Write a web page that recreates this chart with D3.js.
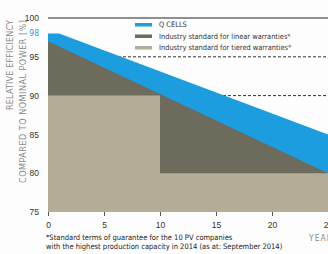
<!DOCTYPE html>
<html>
<head>
<meta charset="utf-8">
<script src="https://cdn.jsdelivr.net/npm/d3@7"></script>
<style>
  body { margin: 0; background: #fdfdfd; }
  svg { display: block; font-family: "Liberation Sans Narrow", "DejaVu Sans Condensed", sans-serif; }
</style>
</head>
<body>
<svg></svg>
<script>
// chart values
const years = [0, 5, 10, 15, 20, 25];
const yTicks = [75, 80, 85, 90, 95, 100];
const qcells = [{year: 0, value: 98}, {year: 1, value: 98}, {year: 25, value: 85}];
const linear = [{year: 0, value: 97}, {year: 25, value: 80}];
const tiered = [{year: 0, value: 90}, {year: 10, value: 90}, {year: 10, value: 80}, {year: 25, value: 80}];
const legendNames = ['Q CELLS', 'Industry standard for linear warranties*', 'Industry standard for tiered warranties*'];
const colors = ['#1b9de0', '#6d6b5b', '#b2ad94'];

const Width = 328, Height = 254;
const Margin = {left: 48, top: 18, bottom: 42};

const svg = d3.select('svg')
.attr('width', Width)
.attr('height', Height)
;

const xScale = d3.scaleLinear().domain([0, 25]).range([Margin.left, 328]);
const yScale = d3.scaleLinear().domain([75, 100]).range([Height - Margin.bottom, Margin.top]);

//Dashed grid
svg.selectAll('.grid')
.data([80, 85, 90, 95])
.enter()
.append('line')
.attr('x1', xScale(0))
.attr('x2', xScale(25))
.attr('y1', d => yScale(d))
.attr('y2', d => yScale(d))
.attr('stroke', '#333')
.attr('stroke-width', 1)
.attr('stroke-dasharray', '3,2')
;

//Areas
const area = d3.area()
.x(d => xScale(d.year))
.y0(yScale(75))
.y1(d => yScale(d.value))
;

[qcells, linear, tiered].forEach((series, i) => {
    svg.append('path')
    .datum(series)
    .attr('d', area)
    .attr('fill', colors[i])
    ;
});

//Top border
svg.append('line')
.attr('x1', xScale(0))
.attr('x2', xScale(25))
.attr('y1', yScale(100))
.attr('y2', yScale(100))
.attr('stroke', '#222')
.attr('stroke-width', 1.2)
;

//Y axis
const yAxis = svg.append('g')
.attr('transform', `translate(${xScale(0)},0)`)
.call(d3.axisLeft(yScale).tickValues(yTicks).tickSize(0).tickPadding(9))
;
yAxis.select('.domain').remove();
yAxis.selectAll('text').attr('font-size', 8.5).attr('fill', '#333').attr('font-family', 'inherit');

svg.append('text')
.attr('x', xScale(0) - 9)
.attr('y', yScale(98))
.attr('dy', '0.32em')
.attr('text-anchor', 'end')
.attr('font-size', 8.5)
.attr('fill', colors[0])
.text('98')
;

//X axis
const xAxis = svg.append('g')
.attr('transform', `translate(0,${yScale(75)})`)
.call(d3.axisBottom(xScale).tickValues(years).tickSize(4).tickPadding(6))
;
xAxis.select('.domain').remove();
xAxis.selectAll('line').attr('stroke', '#555');
xAxis.selectAll('text').attr('font-size', 8.5).attr('fill', '#333').attr('font-family', 'inherit');

svg.append('text')
.attr('x', 309)
.attr('y', 241)
.attr('font-size', 8.5)
.attr('fill', '#888')
.attr('letter-spacing', 1)
.text('YEARS')
;

//Y title
const titles = [['RELATIVE EFFICIENCY', 13, 90], ['COMPARED TO NOMINAL POWER [%]', 26, 163]];
titles.forEach(t => {
    svg.append('text')
    .attr('transform', `translate(${t[1]},20) rotate(-90)`)
    .attr('text-anchor', 'end')
    .attr('font-size', 9)
    .attr('fill', '#8a8a8a')
    .attr('textLength', t[2])
    .attr('lengthAdjust', 'spacing')
    .text(t[0])
    ;
});

//Legend
const legend = svg.selectAll('.legend')
.data(legendNames)
.enter()
.append('g')
.attr('transform', (d, i) => `translate(135,${25 + i * 11.5})`)
;
legend.append('rect')
.attr('width', 17)
.attr('height', 3.5)
.attr('y', -2)
.attr('fill', (d, i) => colors[i])
;
legend.append('text')
.attr('x', 24)
.attr('dy', '0.32em')
.attr('font-size', 7.4)
.attr('fill', '#333')
.text(d => d)
;

//Footnote
const notes = ['*Standard terms of guarantee for the 10 PV companies', 'with the highest production capacity in 2014 (as at: September 2014)'];
svg.selectAll('.note')
.data(notes)
.enter()
.append('text')
.attr('x', 46)
.attr('y', (d, i) => 240 + i * 8.5)
.attr('font-size', 7.5)
.attr('fill', '#222')
.text(d => d)
;
</script>
</body>
</html>
